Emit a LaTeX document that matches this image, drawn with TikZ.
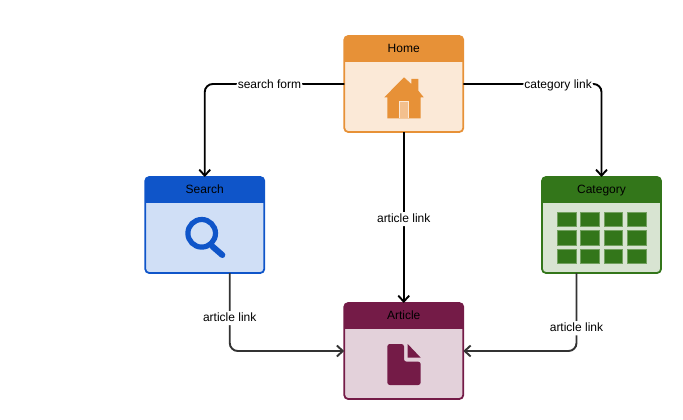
\documentclass[tikz,border=0pt]{standalone}
\usepackage{fontspec}
\setmainfont{Liberation Sans}
\usetikzlibrary{arrows.meta}
\definecolor{homedark}{HTML}{E79137}
\definecolor{homelight}{HTML}{FBE9D7}
\definecolor{homedoor}{HTML}{F3C08E}
\definecolor{searchdark}{HTML}{0F55C9}
\definecolor{searchlight}{HTML}{D0DFF6}
\definecolor{catdark}{HTML}{33761A}
\definecolor{catlight}{HTML}{D8E4D2}
\definecolor{catedge}{HTML}{72A05F}
\definecolor{artdark}{HTML}{741B47}
\definecolor{artlight}{HTML}{E3D1DA}
\tikzset{
	pagebox/.style 2 args={draw=#1, fill=#2, line width=1.8pt, rounded corners=4pt, minimum width=119pt, minimum height=96pt, inner sep=0pt, outer sep=0pt,
		path picture={\fill[#1, sharp corners] (path picture bounding box.north west) rectangle ([yshift=-26pt]path picture bounding box.north east);}},
	pagetitle/.style={text=black, font=\fontsize{12}{14}\selectfont, inner sep=0pt, text height=8.6pt, text depth=2.6pt},
	linklabel/.style={fill=white, text=black, font=\fontsize{12}{14}\selectfont, inner sep=1.5pt, text height=8.6pt, text depth=2.6pt, yshift=-1.6pt},
	linkline/.style={line width=1.9pt, rounded corners=8pt, -{Straight Barb[length=6pt,width=11pt]}},
}
\begin{document}
\begin{tikzpicture}[x=1pt, y=-1pt]
			%%%%% START %%%%%
			\useasboundingbox (0, 0) rectangle (683, 420);
			
			\node[pagebox={homedark}{homelight}] (home) at (403.75, 84) {};
			\node[pagebox={searchdark}{searchlight}] (search) at (204.75, 225) {};
			\node[pagebox={catdark}{catlight}] (category) at (601.5, 225) {};
			\node[pagebox={artdark}{artlight}] (article) at (403.75, 351) {};
			
			\node[pagetitle] (hometitle) at ([yshift=-13.4pt]home.north) {Home};
			\node[pagetitle] (searchtitle) at ([yshift=-13.4pt]search.north) {Search};
			\node[pagetitle] (categorytitle) at ([yshift=-13.4pt]category.north) {Category};
			\node[pagetitle] (articletitle) at ([yshift=-13.4pt]article.north) {Article};
			
			\draw[linkline, black] (home.west) -| node[linklabel, pos=0.268] (searchlink) {search form} (search.north);
			\draw[linkline, black] (home.east) -| node[linklabel, pos=0.343] (categorylink) {category link} (category.north);
			\draw[linkline, black] (home.south) -- node[linklabel, midway] (homelink) {article link} (article.north);
			\draw[linkline, black!80] ([xshift=25pt]search.south) |- node[linklabel, pos=0.279] (searcharticle) {article link} (article.west);
			\draw[linkline, black!80] ([xshift=-25pt]category.south) |- node[linklabel, pos=0.344] (categoryarticle) {article link} (article.east);
			
			\fill[homedark] (404, 77.3) -- (411.3, 84) -- (411.3, 79) -- (418.3, 79) -- (418.3, 90.6) -- (423.7, 97.3) -- (420.7, 97.3) -- (420.7, 118.3) -- (387.3, 118.3) -- (387.3, 97.3) -- (384.3, 97.3) -- cycle;
			\draw[fill=homedoor, draw=homelight, line width=0.7pt] (399, 118.3) -- (399, 101.7) -- (408.7, 101.7) -- (408.7, 118.3);
			
			\draw[searchdark, line width=5.2pt] (201.7, 233.3) circle (13.8);
			\draw[searchdark, line width=6pt, line cap=round] (212.5, 246.5) -- (222.3, 255);
			
			\foreach \gridx in {557.3, 580.7, 604, 627.3} {
				\foreach \gridy in {212.3, 230.7, 249} {
					\draw[fill=catdark, draw=catedge, line width=0.7pt] (\gridx, \gridy) rectangle (\gridx + 18.7, \gridy + 14.4);
				}
			}
			
			\fill[artdark, rounded corners=2.5pt] (387.3, 344) -- (404, 344) -- (404, 361.7) -- (420.7, 361.7) -- (420.7, 385) -- (387.3, 385) -- cycle;
			\fill[artdark] (407.7, 344) -- (420.7, 357.7) -- (407.7, 357.7) -- cycle;
			
			%%%%% END %%%%%
		\end{tikzpicture}
\end{document}
